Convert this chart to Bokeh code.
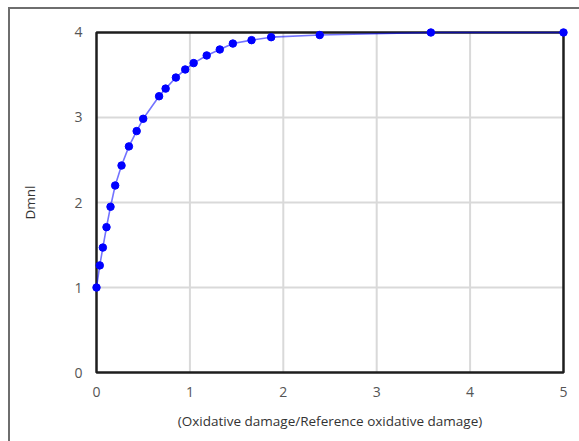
from bokeh.plotting import figure
from bokeh.models import FixedTicker, Range1d
from bokeh.embed import file_html
from bokeh.resources import INLINE

# data
x_vals = [0, 0.035, 0.068, 0.107, 0.15, 0.20, 0.268, 0.347, 0.43, 0.50, 0.67, 0.74,
          0.85, 0.95, 1.04, 1.18, 1.32, 1.46, 1.66, 1.87, 2.39, 3.58, 5.0]
y_vals = [1.0, 1.26, 1.47, 1.71, 1.95, 2.20, 2.435, 2.66, 2.84, 2.985, 3.25, 3.34,
          3.47, 3.565, 3.64, 3.73, 3.80, 3.87, 3.91, 3.945, 3.97, 4.0, 4.0]
x_ticks = [0, 1, 2, 3, 4, 5]
y_ticks = [0, 1, 2, 3, 4]
x_label = "(Oxidative damage/Reference oxidative damage)"
y_label = "Dmnl"

X_MIN, X_MAX = x_ticks[0], x_ticks[-1]
Y_MIN, Y_MAX = y_ticks[0], y_ticks[-1]
pad_x = 0.0536
pad_y = 0.0588

FONT = "Open Sans"

p = figure(width=571, height=434, output_backend="svg", toolbar_location=None,
           x_range=Range1d(X_MIN - pad_x, X_MAX + pad_x),
           y_range=Range1d(Y_MIN - pad_y, Y_MAX + pad_y),
           min_border_left=81, min_border_right=13, min_border_top=18, min_border_bottom=66)
p.margin = (7, 0, 0, 8)
p.styles = {"border-left": "2px solid #6e6e6e", "border-top": "2px solid #6e6e6e"}
p.outline_line_color = None
p.background_fill_color = "white"
p.border_fill_color = "white"
p.xgrid.visible = False
p.ygrid.visible = False

for ax, ticks in ((p.xaxis, x_ticks), (p.yaxis, y_ticks)):
    ax.ticker = FixedTicker(ticks=ticks)
    ax.axis_line_color = None
    ax.major_tick_line_color = None
    ax.minor_tick_line_color = None
    ax.major_label_text_font = FONT
    ax.major_label_text_font_size = "14px"
    ax.major_label_text_color = "#555555"
    ax.axis_label_text_font = FONT
    ax.axis_label_text_font_size = "13.5px"
    ax.axis_label_text_font_style = "normal"
    ax.axis_label_text_color = "#333333"

p.xaxis.axis_label = x_label
p.yaxis.axis_label = y_label
p.xaxis.major_label_standoff = 3
p.xaxis.axis_label_standoff = 12
p.yaxis.major_label_standoff = 3
p.yaxis.axis_label_standoff = 32

# grid lines from tick arrays
gx = [t for t in x_ticks if X_MIN < t < X_MAX]
gy = [t for t in y_ticks if Y_MIN < t < Y_MAX]
p.segment(x0=gx, y0=[Y_MIN] * len(gx), x1=gx, y1=[Y_MAX] * len(gx),
          line_color="#d9d9d9", line_width=2)
p.segment(x0=[X_MIN] * len(gy), y0=gy, x1=[X_MAX] * len(gy), y1=gy,
          line_color="#d9d9d9", line_width=2)

# plot frame
p.quad(left=[X_MIN], right=[X_MAX], bottom=[Y_MIN], top=[Y_MAX],
       fill_color=None, line_color="#1e1e1e", line_width=2.5)

# curve
p.line(x_vals, y_vals, line_color="#0000ff", line_alpha=0.55, line_width=1.6)
p.scatter(x_vals, y_vals, size=7.5, marker="circle", fill_color="#0000ff",
          line_color="#0000ff")

open("out.html", "w").write(file_html(p, INLINE))
